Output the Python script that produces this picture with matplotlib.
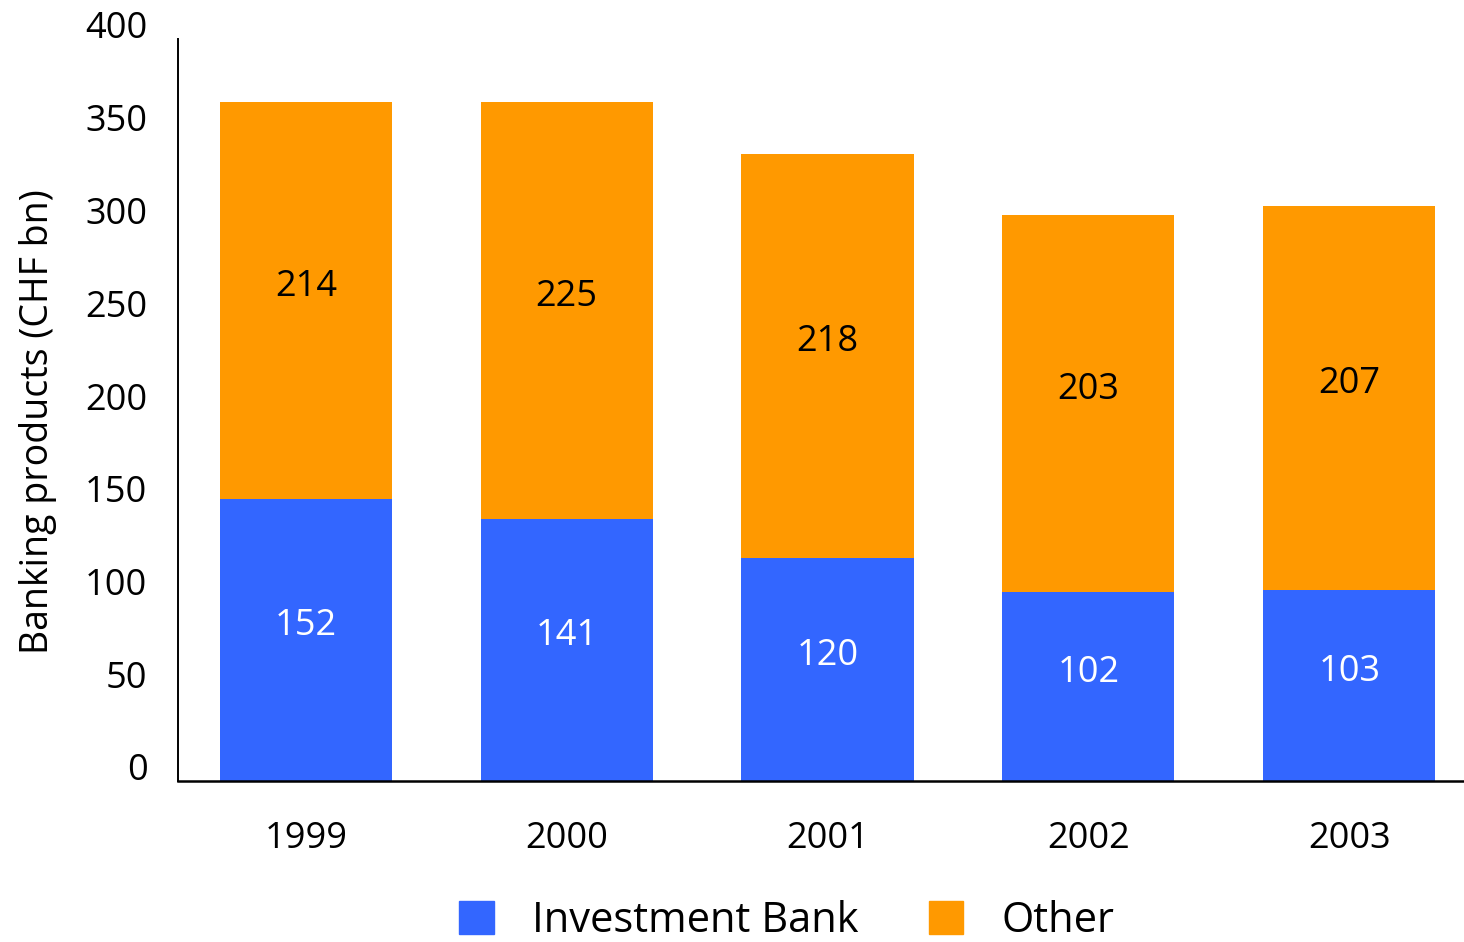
import matplotlib
matplotlib.use("Agg")
import matplotlib.pyplot as plt
import matplotlib.transforms as mtransforms
from matplotlib.patches import Patch
import numpy as np

years = ["1999", "2000", "2001", "2002", "2003"]
investment_bank = [152, 141, 120, 102, 103]
other = [214, 225, 218, 203, 207]
yticks = [0, 50, 100, 150, 200, 250, 300, 350, 400]

BLUE = "#3366FF"
ORANGE = "#FF9900"

plt.rcParams["font.family"] = ["Open Sans", "DejaVu Sans"]

fig = plt.figure(figsize=(14.64, 9.42), dpi=100)
ax = fig.add_axes([178 / 1464, (942 - 781) / 942, 1 - 178 / 1464, (781 - 39) / 942])

x = np.arange(len(years))
width = 0.66
ax.bar(x, investment_bank, width, color=BLUE, label="Investment Bank")
ax.bar(x, other, width, bottom=investment_bank, color=ORANGE, label="Other")

for xi, ib, ot in zip(x, investment_bank, other):
    ax.annotate(str(ib), (xi, ib / 2), xytext=(0, 10), textcoords="offset points",
                ha="center", va="center", color="white", fontsize=26)
    ax.annotate(str(ot), (xi, ib + ot / 2), xytext=(0, 10), textcoords="offset points",
                ha="center", va="center", color="black", fontsize=26)

ax.set_xlim(-0.49, 4.44)
ax.set_ylim(0, 400)
ax.set_yticks(yticks)
ax.set_yticklabels([str(v) for v in yticks])
ax.set_xticks(x)
ax.set_xticklabels(years)

ax.tick_params(axis="both", length=0, labelsize=26)
ax.tick_params(axis="y", pad=22)
ax.tick_params(axis="x", pad=29)

shift = mtransforms.ScaledTranslation(0, 14 / 100, fig.dpi_scale_trans)
for lbl in ax.get_yticklabels():
    lbl.set_transform(lbl.get_transform() + shift)

for s in ["top", "right"]:
    ax.spines[s].set_visible(False)
ax.spines["left"].set_linewidth(1.4)
ax.spines["bottom"].set_linewidth(1.8)

ax.set_ylabel("Banking products (CHF bn)", fontsize=27)
ax.yaxis.set_label_coords(-0.094, 0.485)

handles = [Patch(color=BLUE, label="Investment Bank"), Patch(color=ORANGE, label="Other")]
fig.legend(handles=handles, loc="center", bbox_to_anchor=(787 / 1464, 1 - 921 / 942),
           ncol=2, frameon=False, fontsize=30, handlelength=0.82, handleheight=0.82,
           handletextpad=0.93, columnspacing=1.68, borderpad=0)

fig.savefig("out.png", dpi=100)
